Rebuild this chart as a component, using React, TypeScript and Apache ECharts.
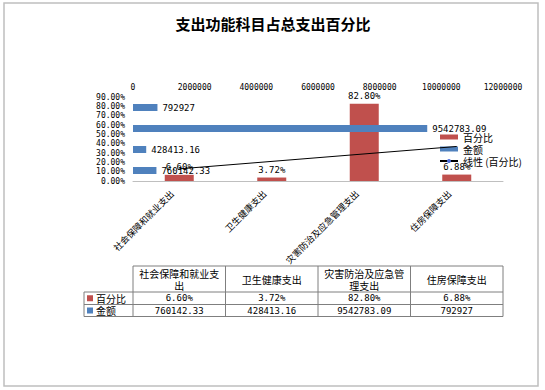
import React, { useEffect, useRef } from "react";
import * as echarts from "echarts";

const titleText = "支出功能科目占总支出百分比";
const categories = ["社会保障和就业支出", "卫生健康支出", "灾害防治及应急管理支出", "住房保障支出"];
const percentValues = [6.6, 3.72, 82.8, 6.88];
const amountValues = [760142.33, 428413.16, 9542783.09, 792927];
// linear trendline end points (first and last category)
const trendStartEnd = [13.0, 37.0];
const seriesNames = ["百分比", "金额", "线性 (百分比)"];
const pctAxisMax = 90;
const pctAxisInterval = 10;
const amountAxisMax = 12000000;
const amountAxisInterval = 2000000;

const MONO = "DejaVu Sans Mono";
const CJK = "Noto Sans CJK SC";
const RED = "#C0504D";
const BLUE = "#4F81BD";

const GRID_LEFT = 133;
const GRID_TOP = 97;
const GRID_W = 370;
const GRID_H = 84;

function wrapChars(s: string, n: number): string {
  const parts: string[] = [];
  for (let i = 0; i < s.length; i += n) parts.push(s.slice(i, i + n));
  return parts.join("\n");
}

function buildTable(): any[] {
  const els: any[] = [];
  const colW = GRID_W / categories.length;
  const keyLeft = 84;
  const right = GRID_LEFT + GRID_W;
  const y0 = 266, y1 = 292, y2 = 304.5, y3 = 316.5;
  const line = (x1: number, yA: number, x2: number, yB: number) => ({
    type: "line",
    shape: { x1, y1: yA, x2, y2: yB },
    style: { stroke: "#7f7f7f", lineWidth: 1 },
    silent: true,
  });
  els.push(line(GRID_LEFT, y0, right, y0));
  els.push(line(keyLeft, y1, right, y1));
  els.push(line(keyLeft, y2, right, y2));
  els.push(line(keyLeft, y3, right, y3));
  els.push(line(keyLeft, y1, keyLeft, y3));
  for (let i = 0; i <= categories.length; i++) {
    const x = GRID_LEFT + i * colW;
    els.push(line(x, y0, x, y3));
  }
  categories.forEach((c, i) => {
    const cx = GRID_LEFT + (i + 0.5) * colW;
    els.push({
      type: "text",
      x: cx,
      y: (y0 + y1) / 2,
      style: {
        text: wrapChars(c, 8),
        align: "center",
        verticalAlign: "middle",
        fontSize: 10,
        lineHeight: 12,
        fontFamily: CJK,
        fill: "#000",
      },
    });
    els.push({
      type: "text",
      x: cx,
      y: (y1 + y2) / 2,
      style: {
        text: percentValues[i].toFixed(2) + "%",
        align: "center",
        verticalAlign: "middle",
        fontSize: 9,
        fontFamily: MONO,
        fill: "#000",
      },
    });
    els.push({
      type: "text",
      x: cx,
      y: (y2 + y3) / 2,
      style: {
        text: String(amountValues[i]),
        align: "center",
        verticalAlign: "middle",
        fontSize: 9,
        fontFamily: MONO,
        fill: "#000",
      },
    });
  });
  const rows = [
    { name: seriesNames[0], color: RED, yc: (y1 + y2) / 2 },
    { name: seriesNames[1], color: BLUE, yc: (y2 + y3) / 2 },
  ];
  rows.forEach((r) => {
    els.push({
      type: "rect",
      shape: { x: 87, y: r.yc - 3, width: 6, height: 6 },
      style: { fill: r.color },
    });
    els.push({
      type: "text",
      x: 96,
      y: r.yc,
      style: {
        text: r.name,
        verticalAlign: "middle",
        fontSize: 10,
        fontFamily: CJK,
        fill: "#000",
      },
    });
  });
  return els;
}

export default function App() {
  const ref = useRef<HTMLDivElement>(null);
  useEffect(() => {
    if (!ref.current) return;
    const chart = echarts.init(ref.current, undefined, { renderer: "svg" });
    const option: any = {
      animation: false,
      backgroundColor: "#ffffff",
      textStyle: { fontFamily: CJK },
      title: {
        text: titleText,
        left: 273,
        top: 16,
        padding: 0,
        textAlign: "center",
        textStyle: { fontSize: 15, fontWeight: "bold", color: "#000", fontFamily: CJK },
      },
      legend: {
        orient: "vertical",
        left: 439,
        top: 131,
        padding: 0,
        itemWidth: 18,
        itemHeight: 5,
        itemGap: 0,
        textStyle: { fontSize: 10, lineHeight: 12, color: "#000", fontFamily: CJK },
        data: [
          { name: seriesNames[0], icon: "rect" },
          { name: seriesNames[1], icon: "rect" },
          { name: seriesNames[2] },
        ],
      },
      grid: { left: GRID_LEFT, top: GRID_TOP, width: GRID_W, height: GRID_H, containLabel: false },
      xAxis: [
        {
          type: "category",
          data: categories,
          position: "bottom",
          axisLine: { lineStyle: { color: "#BFBFBF", width: 1 } },
          axisTick: { show: false },
          axisLabel: {
            rotate: 45,
            interval: 0,
            fontSize: 9,
            color: "#000",
            margin: 4,
            padding: [0, 10, 0, 0],
            fontFamily: CJK,
          },
        },
        {
          type: "value",
          position: "top",
          min: 0,
          max: amountAxisMax,
          interval: amountAxisInterval,
          axisLine: { show: false },
          axisTick: { show: false },
          splitLine: { show: false },
          axisLabel: {
            fontSize: 8,
            margin: 6,
            color: "#000",
            fontFamily: MONO,
            formatter: (v: number) => String(v),
          },
        },
      ],
      yAxis: [
        {
          type: "value",
          min: 0,
          max: pctAxisMax,
          interval: pctAxisInterval,
          axisLine: { show: false },
          axisTick: { show: false },
          splitLine: { show: false },
          axisLabel: {
            fontSize: 8,
            color: "#000",
            fontFamily: MONO,
            margin: 8,
            formatter: (v: number) => v.toFixed(2) + "%",
          },
        },
        {
          type: "category",
          data: categories,
          position: "right",
          show: false,
        },
      ],
      series: [
        {
          name: seriesNames[0],
          type: "bar",
          xAxisIndex: 0,
          yAxisIndex: 0,
          data: percentValues,
          barWidth: 29,
          itemStyle: { color: RED },
          label: {
            show: true,
            position: "top",
            distance: 3,
            fontSize: 9,
            color: "#000",
            fontFamily: MONO,
            formatter: (p: any) => Number(p.value).toFixed(2) + "%",
          },
          z: 2,
        },
        {
          name: seriesNames[1],
          type: "bar",
          xAxisIndex: 1,
          yAxisIndex: 1,
          data: amountValues,
          barWidth: 7,
          itemStyle: { color: BLUE },
          label: {
            show: true,
            position: "right",
            distance: 5,
            fontSize: 9,
            color: "#000",
            fontFamily: MONO,
            formatter: (p: any) => String(p.value),
          },
          z: 3,
        },
        {
          name: seriesNames[2],
          type: "line",
          xAxisIndex: 0,
          yAxisIndex: 0,
          data: [
            [0, trendStartEnd[0]],
            [categories.length - 1, trendStartEnd[1]],
          ],
          symbol: "none",
          lineStyle: { color: "#000", width: 1 },
          z: 4,
        },
      ],
      graphic: [
        {
          type: "rect",
          shape: { x: 4, y: 3, width: 534, height: 383 },
          style: { fill: "none", stroke: "#BFBFBF", lineWidth: 1.5 },
          silent: true,
          z: 0,
        },
        ...buildTable(),
      ],
    };
    chart.setOption(option);
    return () => chart.dispose();
  }, []);
  return (
    <div
      ref={ref}
      style={{ position: "absolute", left: 0, top: 0, width: 545, height: 390 }}
    />
  );
}
